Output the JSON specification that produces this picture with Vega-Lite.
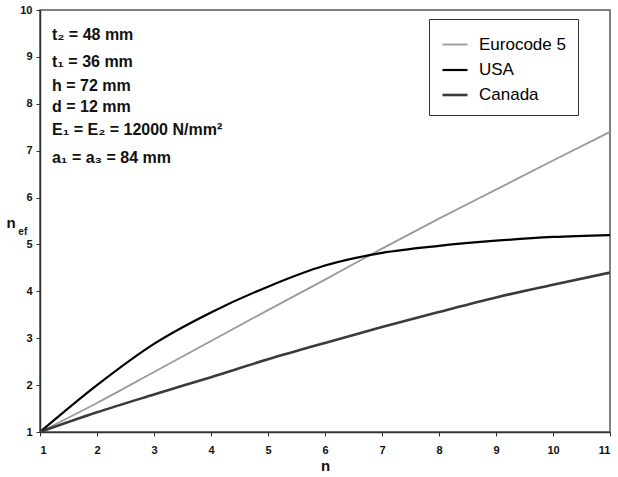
{
  "$schema": "https://vega.github.io/schema/vega-lite/v6.json",
  "width": 570,
  "height": 422,
  "autosize": "none",
  "padding": {"left": 40, "top": 10, "right": 8, "bottom": 45},
  "background": "white",
  "config": {
    "view": {"stroke": "#555", "strokeWidth": 1.5},
    "font": "Liberation Sans",
    "axis": {
      "grid": false,
      "domainColor": "#333",
      "domainWidth": 1.5,
      "tickColor": "#333",
      "tickSize": 4,
      "labelFont": "Liberation Sans",
      "labelFontWeight": "bold",
      "labelFontSize": 11,
      "labelColor": "#111",
      "titleFont": "Liberation Sans",
      "titleFontWeight": "bold",
      "titleFontSize": 15,
      "titleColor": "#111"
    }
  },
  "datasets": {
    "curves": [
      {"series": "Eurocode 5", "n": 1, "nef": 1.0},
      {"series": "Eurocode 5", "n": 2, "nef": 1.62},
      {"series": "Eurocode 5", "n": 3, "nef": 2.28},
      {"series": "Eurocode 5", "n": 4, "nef": 2.94},
      {"series": "Eurocode 5", "n": 5, "nef": 3.6},
      {"series": "Eurocode 5", "n": 6, "nef": 4.25},
      {"series": "Eurocode 5", "n": 7, "nef": 4.91},
      {"series": "Eurocode 5", "n": 8, "nef": 5.55},
      {"series": "Eurocode 5", "n": 9, "nef": 6.17},
      {"series": "Eurocode 5", "n": 10, "nef": 6.79},
      {"series": "Eurocode 5", "n": 11, "nef": 7.4},
      {"series": "USA", "n": 1, "nef": 1.0},
      {"series": "USA", "n": 2, "nef": 2.0},
      {"series": "USA", "n": 3, "nef": 2.88},
      {"series": "USA", "n": 4, "nef": 3.55},
      {"series": "USA", "n": 5, "nef": 4.1},
      {"series": "USA", "n": 6, "nef": 4.55},
      {"series": "USA", "n": 7, "nef": 4.82},
      {"series": "USA", "n": 8, "nef": 4.97},
      {"series": "USA", "n": 9, "nef": 5.08},
      {"series": "USA", "n": 10, "nef": 5.16},
      {"series": "USA", "n": 11, "nef": 5.2},
      {"series": "Canada", "n": 1, "nef": 1.0},
      {"series": "Canada", "n": 2, "nef": 1.42},
      {"series": "Canada", "n": 3, "nef": 1.8},
      {"series": "Canada", "n": 4, "nef": 2.17},
      {"series": "Canada", "n": 5, "nef": 2.55},
      {"series": "Canada", "n": 6, "nef": 2.9},
      {"series": "Canada", "n": 7, "nef": 3.24},
      {"series": "Canada", "n": 8, "nef": 3.56},
      {"series": "Canada", "n": 9, "nef": 3.87},
      {"series": "Canada", "n": 10, "nef": 4.14},
      {"series": "Canada", "n": 11, "nef": 4.4}
    ],
    "notes": [
      {"x": 1.21, "y": 9.46, "label": "t₂ = 48 mm"},
      {"x": 1.21, "y": 8.89, "label": "t₁ = 36 mm"},
      {"x": 1.21, "y": 8.38, "label": "h = 72 mm"},
      {"x": 1.21, "y": 7.93, "label": "d = 12 mm"},
      {"x": 1.21, "y": 7.44, "label": "E₁ = E₂ = 12000 N/mm²"},
      {"x": 1.21, "y": 6.84, "label": "a₁ = a₃ = 84 mm"}
    ],
    "sub": [
      {"x": 0.62, "y": 5.27, "label": "ef"}
    ]
  },
  "layer": [
    {
      "data": {"name": "curves"},
      "mark": {"type": "line", "clip": true, "interpolate": "monotone"},
      "encoding": {
        "x": {
          "field": "n", "type": "quantitative",
          "scale": {"domain": [1, 11], "nice": false, "zero": false},
          "axis": {"values": [1, 2, 3, 4, 5, 6, 7, 8, 9, 10, 11], "format": "d", "title": "n", "labelPadding": 8, "titlePadding": 3}
        },
        "y": {
          "field": "nef", "type": "quantitative",
          "scale": {"domain": [1, 10], "nice": false, "zero": false},
          "axis": {"values": [1, 2, 3, 4, 5, 6, 7, 8, 9, 10], "format": "d", "title": "n", "titleAngle": 0, "titleX": -34, "titleY": 217, "titleAlign": "left", "titleBaseline": "alphabetic", "labelPadding": 4}
        },
        "color": {
          "field": "series", "type": "nominal",
          "scale": {"domain": ["Eurocode 5", "USA", "Canada"], "range": ["#9a9a9a", "#000000", "#3a3a3a"]},
          "legend": {"orient": "none", "legendX": 389, "legendY": 9, "title": null, "strokeColor": "#333", "fillColor": "white", "padding": 12, "symbolType": "stroke", "symbolSize": 625, "labelFontSize": 17, "labelFont": "Liberation Sans", "labelColor": "#000", "rowPadding": 3, "labelOffset": 10}
        },
        "strokeWidth": {
          "field": "series", "type": "nominal",
          "scale": {"domain": ["Eurocode 5", "USA", "Canada"], "range": [1.8, 2.6, 2.0]},
          "legend": {"orient": "none", "legendX": 389, "legendY": 9, "title": null, "strokeColor": "#333", "fillColor": "white", "padding": 12, "symbolType": "stroke", "symbolSize": 625, "labelFontSize": 17, "labelFont": "Liberation Sans", "labelColor": "#000", "rowPadding": 3, "labelOffset": 10}
        }
      }
    },
    {
      "data": {"name": "notes"},
      "mark": {"type": "text", "align": "left", "baseline": "middle", "fontSize": 16, "fontWeight": "bold", "font": "Liberation Sans", "color": "#111"},
      "encoding": {
        "x": {"field": "x", "type": "quantitative", "scale": {"domain": [1, 11], "nice": false, "zero": false}},
        "y": {"field": "y", "type": "quantitative", "scale": {"domain": [1, 10], "nice": false, "zero": false}},
        "text": {"field": "label"}
      }
    },
    {
      "data": {"name": "sub"},
      "mark": {"type": "text", "align": "left", "baseline": "middle", "fontSize": 10, "fontWeight": "bold", "font": "Liberation Sans", "color": "#111"},
      "encoding": {
        "x": {"field": "x", "type": "quantitative", "scale": {"domain": [1, 11], "nice": false, "zero": false}},
        "y": {"field": "y", "type": "quantitative", "scale": {"domain": [1, 10], "nice": false, "zero": false}},
        "text": {"field": "label"}
      }
    }
  ]
}
